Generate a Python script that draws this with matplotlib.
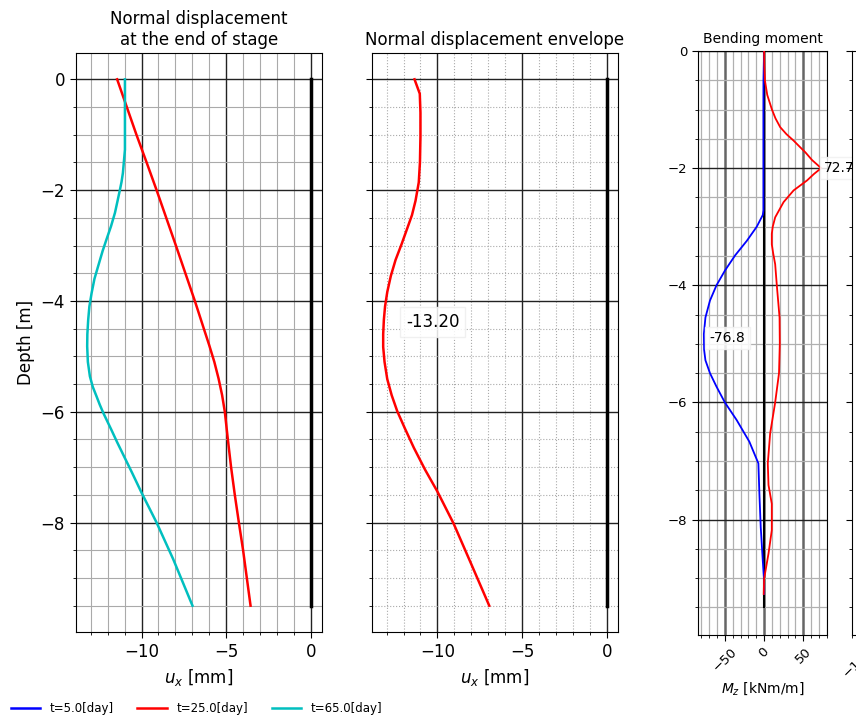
import numpy as np
import matplotlib
matplotlib.use("Agg")
import matplotlib.pyplot as plt
from matplotlib.ticker import MultipleLocator, NullFormatter

# ---------------- data ----------------
series_labels = ["t=5.0[day]", "t=25.0[day]", "t=65.0[day]"]
series_colors = ["blue", "red", "c"]

depth_t5 = [0, -9.5]
ux_t5 = [0.0, 0.0]

depth_t25 = [0, -0.5, -1.0, -1.5, -2.0, -2.5, -3.0, -3.5, -4.0, -4.5, -4.8, -5.1,
             -5.4, -5.7, -6.0, -6.5, -7.0, -7.5, -8.0, -8.5, -9.0, -9.5]
ux_t25 = [-11.44, -10.87, -10.30, -9.70, -9.11, -8.54, -7.97, -7.41, -6.85, -6.32,
          -6.00, -5.70, -5.45, -5.24, -5.08, -4.90, -4.71, -4.49, -4.25, -4.00, -3.78, -3.56]

depth_t65 = [0, -0.54, -1.27, -1.69, -1.85, -2.0, -2.2, -2.41, -2.65, -2.89, -3.1, -3.37,
             -3.6, -3.86, -4.1, -4.34, -4.6, -4.82, -5.1, -5.36, -5.55, -5.72, -5.87, -6.02,
             -6.32, -6.55, -6.8, -7.1, -7.46, -8.0, -8.66, -9.5]
ux_t65 = [-10.98, -10.98, -10.98, -11.10, -11.18, -11.28, -11.42, -11.57, -11.80, -12.07,
          -12.30, -12.56, -12.78, -12.95, -13.08, -13.15, -13.20, -13.21, -13.17, -13.05,
          -12.88, -12.66, -12.47, -12.26, -11.79, -11.44, -11.04, -10.56, -10.00, -9.11, -8.13, -6.99]

depth_env = [0, -0.26, -0.6, -1.03, -1.5, -1.86, -2.19, -2.45, -2.69, -2.98, -3.26,
             -3.55, -3.84, -4.1, -4.34, -4.6, -4.83, -5.1, -5.41, -5.7, -5.99, -6.3,
             -6.65, -7.05, -7.44, -8.02, -8.75, -9.5]
ux_env = [-11.35, -11.04, -11.00, -11.00, -11.03, -11.10, -11.29, -11.50, -11.78, -12.12,
          -12.47, -12.75, -12.96, -13.09, -13.16, -13.20, -13.20, -13.12, -12.96, -12.70,
          -12.37, -11.92, -11.39, -10.72, -10.00, -9.04, -8.00, -6.94]
env_min_label = "-13.20"

depth_m25 = [0, -0.25, -0.5, -0.75, -1.0, -1.15, -1.3, -1.42, -1.53, -1.63, -1.73, -1.86, -2.0,
             -2.1, -2.21, -2.38, -2.58, -2.84, -3.0, -3.12, -3.3, -3.45, -3.64, -4.0, -4.55,
             -5.0, -5.5, -6.0, -6.53, -7.04, -7.41, -7.73, -8.18, -8.58, -9.01, -9.27]
mz_t25 = [0, 0.3, 1.0, 4.0, 10.0, 14.5, 20.5, 28.5, 37.6, 45.0, 52.6, 61.0, 72.7,
          63.5, 54.7, 37.6, 24.8, 14.1, 11.0, 9.8, 9.8, 11.5, 14.1, 16.2, 19.7,
          20.0, 19.0, 14.1, 7.7, 4.7, 5.6, 9.8, 9.8, 5.6, 0.0, -0.5]
depth_m5 = [0, -0.5, -1.0, -2.0, -2.72, -2.8, -3.0, -3.24, -3.49, -3.75, -4.0, -4.26,
            -4.55, -4.83, -5.1, -5.28, -5.5, -5.73, -6.0, -6.3, -6.67, -7.04, -7.56,
            -8.13, -8.7, -9.04, -9.27]
mz_t5 = [0, -0.8, -0.9, -0.9, -0.9, -1.7, -9.4, -22.0, -37.0, -50.0, -60.7, -69.0,
         -74.8, -76.8, -76.5, -74.8, -69.0, -60.7, -50.0, -35.0, -18.8, -7.3, -6.0,
         -4.3, -1.7, 0.0, 0.0]
mz_max_label, mz_min_label = "72.7", "-76.8"

wall_top, wall_bottom = 0.0, -9.5

# ---------------- figure ----------------
W, H = 856, 717
fig = plt.figure(figsize=(W / 100, H / 100), dpi=100)

def ax_at(l, r, t, b):
    return fig.add_axes([l / W, 1 - b / H, (r - l) / W, (b - t) / H])

ax1 = ax_at(76, 322, 53, 632)
ax2 = ax_at(372, 618, 53, 632)
ax3 = ax_at(698, 827, 51, 635)
ax4 = ax_at(852, 981, 51, 635)

def style_disp(ax, dotted_minor):
    ax.xaxis.set_major_locator(MultipleLocator(5))
    ax.xaxis.set_minor_locator(MultipleLocator(1))
    ax.yaxis.set_major_locator(MultipleLocator(2))
    ax.yaxis.set_minor_locator(MultipleLocator(0.5))
    ax.grid(which="major", color="#222222", lw=1.0)
    ax.grid(which="minor", color="#aaaaaa", lw=0.8,
            ls=":" if dotted_minor else "-")
    ax.tick_params(which="major", labelsize=12, length=4.5)
    ax.tick_params(which="minor", length=2.5)
    ax.set_axisbelow(True)
    ax.set_xlabel("$u_x$ [mm]", fontsize=12)

# Panel 1
ax1.plot(ux_t5, depth_t5, color=series_colors[0], lw=1.8, label=series_labels[0])
ax1.plot(ux_t25, depth_t25, color=series_colors[1], lw=1.8, label=series_labels[1])
ax1.plot(ux_t65, depth_t65, color=series_colors[2], lw=1.8, label=series_labels[2])
ax1.plot([0, 0], [wall_top, wall_bottom], color="black", lw=2.5, zorder=5)
style_disp(ax1, False)
ax1.set_title("Normal displacement\nat the end of stage", fontsize=12)
ax1.set_ylabel("Depth [m]", fontsize=12)

# Panel 2
ax2.plot(ux_env, depth_env, color="red", lw=1.8)
ax2.plot([0, 0], [wall_top, wall_bottom], color="black", lw=2.5, zorder=5)
style_disp(ax2, True)
ax2.yaxis.set_major_formatter(NullFormatter())
ax2.set_title("Normal displacement envelope", fontsize=12)
ax2.text(-11.85, -4.38, env_min_label, fontsize=12, ha="left", va="center",
         bbox=dict(boxstyle="square,pad=0.35", facecolor="white", edgecolor="#eeeeee", alpha=0.85))

# Panel 3
ax3.plot([0, 0], [wall_top, wall_bottom], color="black", lw=1.5, zorder=2)
ax3.plot(mz_t5, depth_m5, color="blue", lw=1.3, zorder=3)
ax3.plot(mz_t25, depth_m25, color="red", lw=1.3, zorder=3)
ax3.set_ylim(-9.97, 0)
ax3.xaxis.set_major_locator(MultipleLocator(50))
ax3.xaxis.set_minor_locator(MultipleLocator(10))
ax3.yaxis.set_major_locator(MultipleLocator(2))
ax3.yaxis.set_minor_locator(MultipleLocator(0.5))
ax3.grid(which="major", axis="x", color="#666666", lw=1.8)
ax3.grid(which="major", axis="y", color="#222222", lw=1.0)
ax3.grid(which="minor", color="#b0b0b0", lw=0.9)
ax3.set_axisbelow(True)
ax3.tick_params(which="major", labelsize=9.5, length=4)
ax3.tick_params(which="minor", length=2.5)
for lab in ax3.get_xticklabels():
    lab.set_rotation(45)
ax3.set_title("Bending moment", fontsize=10)
ax3.set_xlabel("$M_z$ [kNm/m]", fontsize=10)
ax3.text(76.5, -2.0, mz_max_label, fontsize=10, ha="left", va="center",
         bbox=dict(boxstyle="square,pad=0.3", facecolor="white", edgecolor="#f0f0f0", alpha=0.85))
ax3.text(-69.5, -4.9, mz_min_label, fontsize=10, ha="left", va="center",
         bbox=dict(boxstyle="square,pad=0.3", facecolor="white", edgecolor="#f0f0f0", alpha=0.85))

# Panel 4 (cut off at the right edge)
ax4.set_xlim(-110, 110)
ax4.set_ylim(-9.97, 0)
ax4.xaxis.set_major_locator(MultipleLocator(100))
ax4.xaxis.set_minor_locator(MultipleLocator(10))
ax4.yaxis.set_major_locator(MultipleLocator(2))
ax4.yaxis.set_minor_locator(MultipleLocator(0.5))
ax4.yaxis.set_major_formatter(NullFormatter())
ax4.tick_params(which="major", labelsize=9.5, length=4)
ax4.tick_params(which="minor", length=2.5)
for lab in ax4.get_xticklabels():
    lab.set_rotation(45)
ax4.set_title("Shear force", fontsize=10)

# Legend
handles, labels = ax1.get_legend_handles_labels()
fig.legend(handles, labels, loc="lower left", bbox_to_anchor=(0.0, -0.012), ncol=3,
           frameon=False, fontsize=8.5, handlelength=2.5, columnspacing=2.0)

fig.savefig("out.png", dpi=100)
